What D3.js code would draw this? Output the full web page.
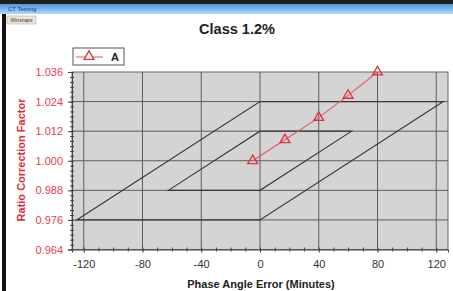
<!DOCTYPE html>
<html>
<head>
<meta charset="utf-8">
<script src="https://cdn.jsdelivr.net/npm/d3@7"></script>
<style>
body { margin: 0; background: #fff; }
svg { display: block; font-family: 'Liberation Sans', Arial, sans-serif; }
</style>
</head>
<body>
<script>
const xTicks = [-120, -80, -40, 0, 40, 80, 120]
const yTicks = [0.964, 0.976, 0.988, 1.000, 1.012, 1.024, 1.036]
const seriesName = 'A'
const phaseA = [-5, 17, 40, 60, 80]
const rcfA = [1.000, 1.0085, 1.0175, 1.0265, 1.036]
// class 1.2 limits: inner = 100% current, outer = 10% current
const innerPhase = [-62.4, 0, 62.4, 0]
const innerRcf = [0.988, 0.988, 1.012, 1.012]
const outerPhase = [-124.8, 0, 124.8, 0]
const outerRcf = [0.976, 0.976, 1.024, 1.024]

const width = 453, height = 291
const plotL = 72, plotR = 448, plotT = 72, plotB = 249.5

const svg = d3.select('body').append('svg').attr('width', width).attr('height', height)

// window chrome from the screenshot
const grad = svg.append('defs').append('linearGradient').attr('id', 'bar').attr('x1', 0).attr('x2', 0).attr('y1', 0).attr('y2', 1)
grad.append('stop').attr('offset', 0).attr('stop-color', '#4a97da')
grad.append('stop').attr('offset', 1).attr('stop-color', '#b3d8f5')
svg.append('rect').attr('x', 0).attr('y', 0).attr('width', width).attr('height', 4).attr('fill', '#1e1e1e')
svg.append('rect').attr('x', 0).attr('y', 4).attr('width', width).attr('height', 10).attr('fill', 'url(#bar)')
svg.append('text').text('CT Testing').attr('x', 8).attr('y', 11).attr('font-size', 6).attr('fill', '#1d3f7a')
svg.append('rect').attr('x', 7).attr('y', 16).attr('width', 29).attr('height', 8).attr('fill', '#ece6dc').attr('stroke', '#b5ada0').attr('stroke-width', 0.6)
svg.append('text').text('Winsnaps').attr('x', 21.5).attr('y', 22).attr('text-anchor', 'middle').attr('font-size', 5).attr('fill', '#333')
svg.append('rect').attr('x', 2).attr('y', 14).attr('width', 4).attr('height', height - 14).attr('fill', '#111')

const xScale = d3.scaleLinear().domain([-128, 128]).range([plotL, plotR])
const yScale = d3.scaleLinear().domain([0.964, 1.036]).range([plotB, plotT])

svg.append('rect').attr('x', plotL).attr('y', plotT).attr('width', plotR - plotL).attr('height', plotB - plotT).attr('fill', '#d4d4d4').attr('stroke', '#666')

// grid
svg.append('g').selectAll('line').data(xTicks).join('line')
  .attr('x1', d => xScale(d)).attr('x2', d => xScale(d)).attr('y1', plotT).attr('y2', plotB)
  .attr('stroke', '#5c5c5c').attr('stroke-width', 1)
svg.append('g').selectAll('line').data(yTicks.slice(1, -1)).join('line')
  .attr('x1', plotL).attr('x2', plotR).attr('y1', d => yScale(d)).attr('y2', d => yScale(d))
  .attr('stroke', '#5c5c5c').attr('stroke-width', 1)

// limit parallelograms
const poly = (ph, rc) => ph.map((p, i) => [xScale(p), yScale(rc[i])])
const lineGen = d3.line()
;[[innerPhase, innerRcf], [outerPhase, outerRcf]].forEach(([ph, rc]) => {
  svg.append('path').attr('d', lineGen(poly(ph, rc)) + 'Z').attr('fill', 'none').attr('stroke', '#383838').attr('stroke-width', 1.1)
})

// axes
const xAxis = d3.axisBottom(xScale).tickValues(xTicks).tickFormat(d => String(d)).tickSize(3).tickPadding(8)
const gx = svg.append('g').attr('transform', `translate(0,${plotB})`).call(xAxis)
gx.selectAll('text').attr('font-size', 11).attr('fill', '#333').attr('font-family', 'Liberation Sans, Arial, sans-serif')
gx.selectAll('line').attr('stroke', '#444')
gx.select('.domain').attr('stroke', '#444')

const xMinor = d3.axisBottom(xScale).tickValues(d3.range(-120, 121, 10)).tickFormat('').tickSize(4)
svg.append('g').attr('transform', `translate(0,${plotB - 2})`).call(xMinor)
  .call(g => g.select('.domain').remove()).selectAll('line').attr('stroke', '#444')

const yAxis = d3.axisLeft(yScale).tickValues(yTicks).tickFormat(d3.format('.3f')).tickSize(4).tickPadding(5)
const gy = svg.append('g').attr('transform', `translate(${plotL},0)`).call(yAxis)
gy.selectAll('text').attr('font-size', 11).attr('fill', '#e8414f').attr('font-family', 'Liberation Sans, Arial, sans-serif')
gy.selectAll('line').attr('stroke', '#444')
gy.select('.domain').attr('stroke', '#444')

const yMinor = d3.axisLeft(yScale).tickValues(d3.range(0, 37).map(i => 0.964 + i * 0.002)).tickFormat('').tickSize(4)
svg.append('g').attr('transform', `translate(${plotL + 2},0)`).call(yMinor)
  .call(g => g.select('.domain').remove()).selectAll('line').attr('stroke', '#444')

// series A
const pts = phaseA.map((p, i) => [xScale(p), yScale(rcfA[i])])
svg.append('path').attr('d', lineGen(pts)).attr('fill', 'none').attr('stroke', '#e85563').attr('stroke-width', 1.1)
const tri = d3.symbol(d3.symbolTriangle).size(42)
svg.append('g').selectAll('path').data(pts).join('path')
  .attr('d', tri).attr('transform', d => `translate(${d[0]},${d[1]})`)
  .attr('fill', 'none').attr('stroke', '#e0323f').attr('stroke-width', 1.3)

// legend
svg.append('rect').attr('x', 73).attr('y', 48).attr('width', 51).attr('height', 17).attr('fill', '#fff').attr('stroke', '#555')
svg.append('line').attr('x1', 76).attr('x2', 103).attr('y1', 57).attr('y2', 57).attr('stroke', '#e85563')
svg.append('path').attr('d', tri).attr('transform', 'translate(89,56.5)').attr('fill', '#fff').attr('stroke', '#e0323f').attr('stroke-width', 1.3)
svg.append('text').text(seriesName).attr('x', 111).attr('y', 61).attr('font-size', 11).attr('font-weight', 'bold').attr('fill', '#222')

// titles
svg.append('text').text('Class 1.2%').attr('x', 237).attr('y', 34).attr('text-anchor', 'middle')
  .attr('font-size', 14.5).attr('font-weight', 'bold').attr('fill', '#222')
svg.append('text').text('Phase Angle Error (Minutes)').attr('x', 261).attr('y', 288).attr('text-anchor', 'middle')
  .attr('font-size', 11).attr('font-weight', 'bold').attr('fill', '#222')
svg.append('text').text('Ratio Correction Factor').attr('transform', 'translate(25,160) rotate(-90)').attr('text-anchor', 'middle')
  .attr('font-size', 11).attr('font-weight', 'bold').attr('fill', '#e02a35')
</script>
</body>
</html>
